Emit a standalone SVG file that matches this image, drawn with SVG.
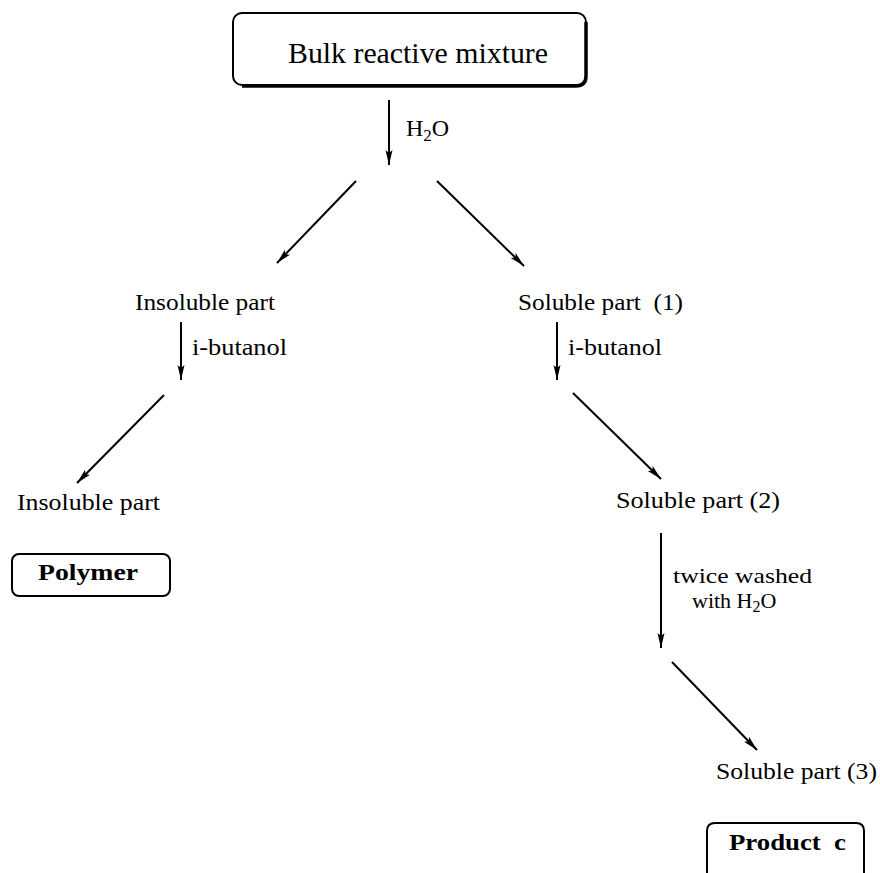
<svg xmlns="http://www.w3.org/2000/svg" width="880" height="873" viewBox="0 0 880 873">
<style>
  .t { font-family: "Liberation Serif", "Times New Roman", serif; font-size: 24px; fill: #000; }
  .s { font-size: 22px; }
  .b { font-weight: bold; }
  .box { fill: none; stroke: #000; stroke-width: 2; }
  .sh { fill: none; stroke: #000; stroke-width: 3.5; }
  .c line { stroke: #000; stroke-width: 2; marker-end: url(#ah); }
</style>
<defs>
  <marker id="ah" markerUnits="userSpaceOnUse" markerWidth="16" markerHeight="10" viewBox="0 0 16 10" refX="15" refY="5" orient="auto">
    <path d="M0,1.5 L15,5 L0,8.5 L3,5 z" fill="#000"/>
  </marker>
</defs>
<rect width="880" height="873" fill="#fff"/>

<g id="bulk">
  <rect class="box" x="233" y="13" width="353" height="72" rx="9"/>
  <path class="sh" d="M586,22 L586,76 Q586,86 576,86 L242,86"/>
  <text class="t" x="288" y="63" style="font-size:30px" textLength="260" lengthAdjust="spacingAndGlyphs">Bulk reactive mixture</text>
</g>

<g id="ins1">
  <text class="t" x="135" y="310" textLength="140" lengthAdjust="spacingAndGlyphs">Insoluble part</text>
</g>
<g id="sol1">
  <text class="t" x="518" y="310" textLength="165" lengthAdjust="spacingAndGlyphs" xml:space="preserve">Soluble part  (1)</text>
</g>
<g id="ins2">
  <text class="t" x="17" y="510" textLength="143" lengthAdjust="spacingAndGlyphs">Insoluble part</text>
</g>
<g id="polymer">
  <rect class="box" x="12" y="554" width="158" height="42" rx="7"/>
  <text class="t b" x="38" y="580" textLength="100" lengthAdjust="spacingAndGlyphs">Polymer</text>
</g>
<g id="sol2">
  <text class="t" x="616" y="508" textLength="164" lengthAdjust="spacingAndGlyphs">Soluble part (2)</text>
</g>
<g id="sol3">
  <text class="t" x="716" y="779" textLength="161" lengthAdjust="spacingAndGlyphs">Soluble part (3)</text>
</g>
<g id="product">
  <path class="box" d="M707,880 L707,831 Q707,823 715,823 L856,823 Q864,823 864,831 L864,880"/>
  <text class="t b" x="729" y="850" textLength="117" lengthAdjust="spacingAndGlyphs" xml:space="preserve">Product  c</text>
</g>

<g id="connectors" class="c">
  <line x1="389" y1="100" x2="389" y2="165"/>
  <line x1="356" y1="181" x2="277" y2="263"/>
  <line x1="437" y1="181" x2="524" y2="266"/>
  <line x1="181" y1="322" x2="181" y2="380"/>
  <line x1="557" y1="322" x2="557" y2="380"/>
  <line x1="164" y1="395" x2="77" y2="483"/>
  <line x1="573" y1="393" x2="661" y2="479"/>
  <line x1="661" y1="533" x2="661" y2="648"/>
  <line x1="672" y1="662" x2="757" y2="750"/>
</g>

<g id="labels">
  <text class="t" x="406" y="136">H<tspan dy="5" style="font-size:17px">2</tspan><tspan dy="-5">O</tspan></text>
  <text class="t" x="192" y="355" textLength="95" lengthAdjust="spacingAndGlyphs">i-butanol</text>
  <text class="t" x="568" y="355" textLength="94" lengthAdjust="spacingAndGlyphs">i-butanol</text>
  <text class="t s" x="673" y="583" textLength="139" lengthAdjust="spacingAndGlyphs">twice washed</text>
  <text class="t s" x="692" y="608">with H<tspan dy="4" style="font-size:16px">2</tspan><tspan dy="-4">O</tspan></text>
</g>
</svg>
